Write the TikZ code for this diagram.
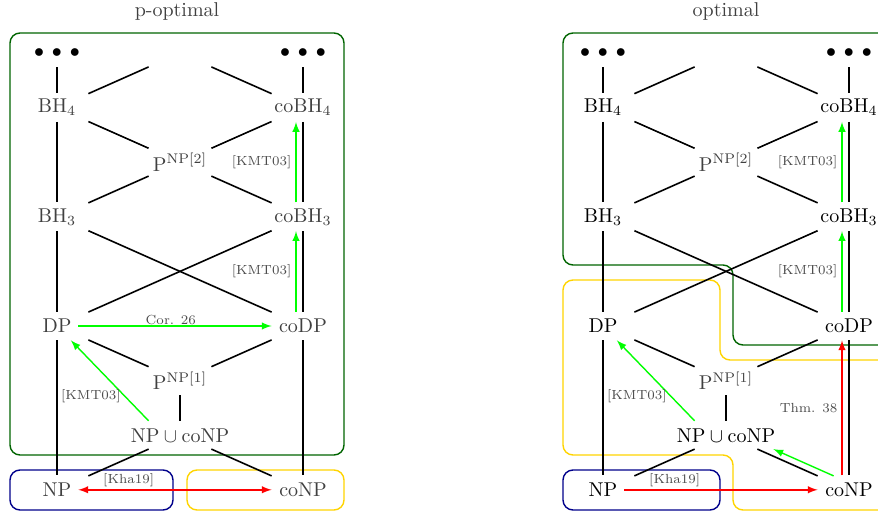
\documentclass[tikz,border=0pt]{standalone}

\definecolor{boxgreen}{RGB}{0,100,0}
\definecolor{boxblue}{RGB}{0,0,139}
\definecolor{boxyellow}{RGB}{255,212,0}
\newcommand{\clsbox}[1]{\makebox[0pt]{#1}}

\tikzset{
  cls/.style={minimum width=31pt, minimum height=14pt, inner sep=0pt},
  lcls/.style={cls, text=black!75},
  edge/.style={thick},
  ref/.style={font=\fontsize{6.6}{8}\selectfont, text=black!70, inner sep=2pt},
  res/.style={line width=0.7pt, -latex},
  region/.style={rounded corners=5pt, line width=0.7pt}
}

\begin{document}
\begin{tikzpicture}[x=0.5pt, y=-0.5pt]
    \useasboundingbox (0,0) rectangle (878,513);
    \clip (0,0) rectangle (878,513);

    % p-optimal
    \node[text=black!75] (ltitle) at (177,12) {p-optimal};
    \draw[region, boxgreen] (10,33) rectangle (344,455);
    \draw[region, boxblue] (10,470) rectangle (173,510);
    \draw[region, boxyellow] (187,470) rectangle (344,510);

    \node[cls] (ldots) at (57,53) {\clsbox{$\bullet\,\bullet\,\bullet$}};
    \node[cls] (ltop) at (180,53) {};
    \node[cls] (lcodots) at (303,53) {\clsbox{$\bullet\,\bullet\,\bullet$}};
    \node[lcls] (lBH4) at (57,107.6) {\clsbox{$\mathrm{BH}_4$}};
    \node[lcls] (lcoBH4) at (303,107.6) {\clsbox{$\mathrm{coBH}_4$}};
    \node[lcls] (lP2) at (180,162.2) {\clsbox{$\mathrm{P}^{\mathrm{NP}[2]}$}};
    \node[lcls] (lBH3) at (57,216.8) {\clsbox{$\mathrm{BH}_3$}};
    \node[lcls] (lcoBH3) at (303,216.8) {\clsbox{$\mathrm{coBH}_3$}};
    \node[lcls] (lDP) at (57,326) {\clsbox{$\mathrm{DP}$}};
    \node[lcls] (lcoDP) at (303,326) {\clsbox{$\mathrm{coDP}$}};
    \node[lcls] (lP1) at (180,380.6) {\clsbox{$\mathrm{P}^{\mathrm{NP}[1]}$}};
    \node[lcls] (lNPC) at (180,435.2) {\clsbox{$\mathrm{NP}\cup\mathrm{coNP}$}};
    \node[lcls] (lNP) at (57,489.8) {\clsbox{$\mathrm{NP}$}};
    \node[lcls] (lcoNP) at (303,489.8) {\clsbox{$\mathrm{coNP}$}};

    \draw[edge] (ldots) -- (lBH4) -- (lBH3) -- (lDP) -- (lNP);
    \draw[edge] (lcodots) -- (lcoBH4) -- (lcoBH3) -- (lcoDP) -- (lcoNP);
    \draw[edge] (lBH4) -- (ltop);
    \draw[edge] (lcoBH4) -- (ltop);
    \draw[edge] (lBH4) -- (lP2);
    \draw[edge] (lcoBH4) -- (lP2);
    \draw[edge] (lBH3) -- (lP2);
    \draw[edge] (lcoBH3) -- (lP2);
    \draw[edge] (lBH3) -- (lcoDP);
    \draw[edge] (lcoBH3) -- (lDP);
    \draw[edge] (lDP) -- (lP1);
    \draw[edge] (lcoDP) -- (lP1);
    \draw[edge] (lP1) -- (lNPC);
    \draw[edge] (lNPC) -- (lNP);
    \draw[edge] (lNPC) -- (lcoNP);

    \draw[res, green, transform canvas={xshift=-3.5pt}] (lcoDP) -- node[ref, left] {[KMT03]} (lcoBH3);
    \draw[res, green, transform canvas={xshift=-3.5pt}] (lcoBH3) -- node[ref, left] {[KMT03]} (lcoBH4);
    \draw[res, green, shorten <=-5pt] (lDP) -- node[ref, pos=0.45, above, inner sep=0.5pt] {Cor. 26} (lcoDP);
    \draw[res, green] (lNPC.north west) -- node[ref, pos=0.3, left] {[KMT03]} (lDP);
    \draw[res, red, latex-latex, shorten <=-5pt] (lNP) -- node[ref, pos=0.22, above, inner sep=1pt] {[Kha19]} (lcoNP);

    % optimal
    \node[text=black!75] (rtitle) at (726,12) {optimal};
    \draw[region, boxgreen] (891,33) -- (563,33) -- (563,265) -- (733,265) -- (733,345) -- (891,345) -- cycle;
    \draw[region, boxyellow] (563,280) -- (720,280) -- (720,360) -- (891,360) -- (891,510) -- (733,510) -- (733,455) -- (563,455) -- cycle;
    \draw[region, boxblue] (563,470) rectangle (720,510);

    \node[cls] (rdots) at (603,53) {\clsbox{$\bullet\,\bullet\,\bullet$}};
    \node[cls] (rtop) at (726,53) {};
    \node[cls] (rcodots) at (849,53) {\clsbox{$\bullet\,\bullet\,\bullet$}};
    \node[cls] (rBH4) at (603,107.6) {\clsbox{$\mathrm{BH}_4$}};
    \node[cls] (rcoBH4) at (849,107.6) {\clsbox{$\mathrm{coBH}_4$}};
    \node[lcls] (rP2) at (726,162.2) {\clsbox{$\mathrm{P}^{\mathrm{NP}[2]}$}};
    \node[cls] (rBH3) at (603,216.8) {\clsbox{$\mathrm{BH}_3$}};
    \node[cls] (rcoBH3) at (849,216.8) {\clsbox{$\mathrm{coBH}_3$}};
    \node[cls] (rDP) at (603,326) {\clsbox{$\mathrm{DP}$}};
    \node[cls] (rcoDP) at (849,326) {\clsbox{$\mathrm{coDP}$}};
    \node[lcls] (rP1) at (726,380.6) {\clsbox{$\mathrm{P}^{\mathrm{NP}[1]}$}};
    \node[cls] (rNPC) at (726,435.2) {\clsbox{$\mathrm{NP}\cup\mathrm{coNP}$}};
    \node[cls] (rNP) at (603,489.8) {\clsbox{$\mathrm{NP}$}};
    \node[cls] (rcoNP) at (849,489.8) {\clsbox{$\mathrm{coNP}$}};

    \draw[edge] (rdots) -- (rBH4) -- (rBH3) -- (rDP) -- (rNP);
    \draw[edge] (rcodots) -- (rcoBH4) -- (rcoBH3) -- (rcoDP) -- (rcoNP);
    \draw[edge] (rBH4) -- (rtop);
    \draw[edge] (rcoBH4) -- (rtop);
    \draw[edge] (rBH4) -- (rP2);
    \draw[edge] (rcoBH4) -- (rP2);
    \draw[edge] (rBH3) -- (rP2);
    \draw[edge] (rcoBH3) -- (rP2);
    \draw[edge] (rBH3) -- (rcoDP);
    \draw[edge] (rcoBH3) -- (rDP);
    \draw[edge] (rDP) -- (rP1);
    \draw[edge] (rcoDP) -- (rP1);
    \draw[edge] (rP1) -- (rNPC);
    \draw[edge] (rNPC) -- (rNP);
    \draw[edge] (rNPC) -- (rcoNP);

    \draw[res, green, transform canvas={xshift=-3.5pt}] (rcoDP) -- node[ref, left] {[KMT03]} (rcoBH3);
    \draw[res, green, transform canvas={xshift=-3.5pt}] (rcoBH3) -- node[ref, left] {[KMT03]} (rcoBH4);
    \draw[res, green] (rNPC.north west) -- node[ref, pos=0.3, left] {[KMT03]} (rDP);
    \draw[res, green, transform canvas={xshift=8pt}] (rcoNP) -- (rNPC);
    \draw[res, red, transform canvas={xshift=-3.5pt}] (rcoNP) -- node[ref, left] {Thm. 38} (rcoDP);
    \draw[res, red, shorten <=-5pt] (rNP) -- node[ref, pos=0.22, above, inner sep=1pt] {[Kha19]} (rcoNP);
\end{tikzpicture}
\end{document}
